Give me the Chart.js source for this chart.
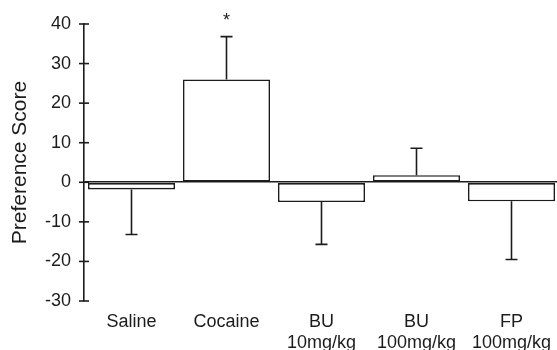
<!DOCTYPE html>
<html>
<head>
<meta charset="utf-8">
<script src="https://cdn.jsdelivr.net/npm/chart.js@4/dist/chart.umd.min.js"></script>
<style>
  html, body { margin: 0; padding: 0; background: #fff; overflow: hidden; }
  #wrap { width: 559px; height: 350px; }
</style>
</head>
<body>
<div id="wrap"><canvas id="c" width="559" height="350"></canvas></div>
<script>
// ---- data ----
const categories = [['Saline'], ['Cocaine'], ['BU', '10mg/kg'], ['BU', '100mg/kg'], ['FP', '100mg/kg']];
const meanScores = [-1.8, 26, -5, 1.8, -4.8];
const semValues = [11.4, 10.8, 10.7, 6.8, 14.7];
const sigMarks = ['', '*', '', '', ''];
const yTicks = [-30, -20, -10, 0, 10, 20, 30, 40];

const INK = '#1c1c1c';
const FONT = "'Liberation Sans', Arial, Helvetica, sans-serif";

const errorBarPlugin = {
  id: 'errorBars',
  afterDatasetsDraw(chart) {
    const ctx = chart.ctx;
    const meta = chart.getDatasetMeta(0);
    const y = chart.scales.y;
    ctx.save();
    ctx.strokeStyle = INK;
    ctx.lineWidth = 1.6;
    meta.data.forEach((bar, i) => {
      const v = meanScores[i];
      const end = v >= 0 ? v + semValues[i] : v - semValues[i];
      const y0 = y.getPixelForValue(v);
      const y1 = y.getPixelForValue(end);
      ctx.beginPath();
      ctx.moveTo(bar.x, y0);
      ctx.lineTo(bar.x, y1);
      ctx.moveTo(bar.x - 6, y1);
      ctx.lineTo(bar.x + 6, y1);
      ctx.stroke();
      if (sigMarks[i]) {
        ctx.fillStyle = INK;
        ctx.font = '18px ' + FONT;
        ctx.textAlign = 'center';
        ctx.textBaseline = 'middle';
        ctx.fillText(sigMarks[i], bar.x, y1 - 16);
      }
    });
    // y tick marks crossing the axis
    const x0 = chart.chartArea.left;
    y.ticks.forEach(t => {
      const py = y.getPixelForValue(t.value);
      ctx.beginPath();
      ctx.moveTo(x0 - 5, py);
      ctx.lineTo(x0 + 5, py);
      ctx.stroke();
    });
    ctx.restore();
  }
};

new Chart(document.getElementById('c'), {
  type: 'bar',
  data: {
    labels: categories,
    datasets: [{
      data: meanScores,
      backgroundColor: '#ffffff',
      borderColor: INK,
      borderWidth: 1.6,
      borderSkipped: false,
      barPercentage: 0.916,
      categoryPercentage: 1.0
    }]
  },
  options: {
    responsive: false,
    animation: false,
    events: [],
    layout: { padding: { top: 24, left: 0, right: 0, bottom: 0 } },
    plugins: { legend: { display: false }, tooltip: { enabled: false } },
    scales: {
      x: {
        offset: true,
        border: { display: false },
        grid: { display: false, drawTicks: false },
        ticks: {
          color: INK,
          font: { family: FONT, size: 18, lineHeight: 1.15 },
          padding: 11,
          maxRotation: 0,
          autoSkip: false
        },
        afterFit(scale) {
          scale.height = 49;
          scale.paddingLeft = 0;
          scale.paddingRight = 0;
        }
      },
      y: {
        min: -30,
        max: 40,
        afterBuildTicks(scale) { scale.ticks = yTicks.map(v => ({ value: v })); },
        border: { display: true, color: INK, width: 1.6 },
        grid: {
          drawTicks: false,
          lineWidth: 1.6,
          color: (c) => (c.tick && c.tick.value === 0 ? INK : 'rgba(0,0,0,0)')
        },
        ticks: {
          color: INK,
          font: { family: FONT, size: 18 },
          padding: 13
        },
        title: {
          display: true,
          text: 'Preference Score',
          color: INK,
          font: { family: FONT, size: 21 },
          padding: { top: 8, bottom: 0 }
        },
        afterFit(scale) { scale.width = 84; }
      }
    }
  },
  plugins: [errorBarPlugin]
});
</script>
</body>
</html>
